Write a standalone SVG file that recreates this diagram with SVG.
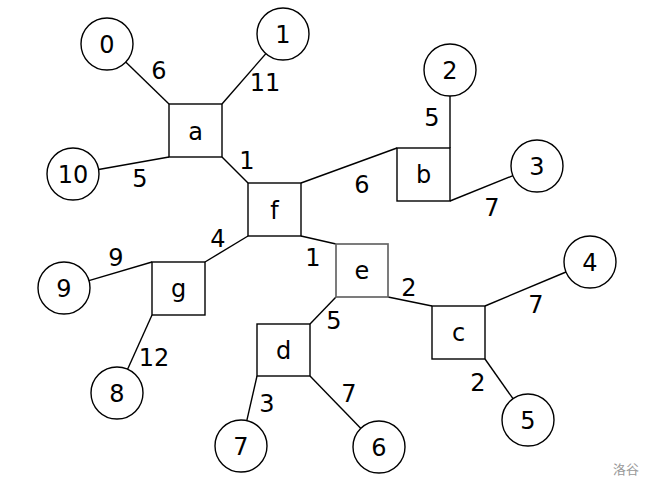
<svg xmlns="http://www.w3.org/2000/svg" width="653" height="489" viewBox="0 0 653 489">
<style>
.n{fill:#fff;stroke:#000;stroke-width:1.4}
.ng{fill:#fff;stroke:#666;stroke-width:1.7}
.t{font-family:"DejaVu Sans",sans-serif;font-size:24px;text-anchor:middle;fill:#000}
.e line{stroke:#000;stroke-width:1.4}
.wm{font-family:"Noto Sans CJK SC",sans-serif;font-size:13px;fill:#999;text-anchor:middle}
</style>
<rect width="653" height="489" fill="#fff"/>
<g id="connectors" class="e">
<line x1="125.7" y1="62.1" x2="169" y2="104"/>
<line x1="265.9" y1="53.6" x2="222" y2="104"/>
<line x1="98.6" y1="169.5" x2="169" y2="157"/>
<line x1="222" y1="157" x2="248" y2="183"/>
<line x1="301" y1="183" x2="397" y2="148"/>
<line x1="450" y1="148" x2="450" y2="96"/>
<line x1="450" y1="201" x2="512.9" y2="175.7"/>
<line x1="301" y1="236" x2="336" y2="244"/>
<line x1="388" y1="297" x2="432" y2="306"/>
<line x1="485" y1="306" x2="566" y2="272"/>
<line x1="485" y1="359" x2="513" y2="398.7"/>
<line x1="336" y1="297" x2="310" y2="324"/>
<line x1="248" y1="236" x2="205" y2="262"/>
<line x1="152" y1="262" x2="88.9" y2="280.6"/>
<line x1="152" y1="315" x2="127.6" y2="369.3"/>
<line x1="257" y1="376" x2="246.8" y2="420.6"/>
<line x1="310" y1="376" x2="360.9" y2="428.4"/>
</g>
<g id="edge-labels" class="t">
<text x="159" y="79">6</text>
<text x="265" y="91">11</text>
<text x="140" y="187">5</text>
<text x="247" y="169">1</text>
<text x="362" y="193">6</text>
<text x="432" y="126">5</text>
<text x="492" y="216">7</text>
<text x="313" y="266">1</text>
<text x="409" y="296">2</text>
<text x="536" y="313">7</text>
<text x="478" y="391">2</text>
<text x="334" y="329">5</text>
<text x="218" y="247">4</text>
<text x="116" y="266">9</text>
<text x="154" y="366">12</text>
<text x="267" y="412">3</text>
<text x="349" y="402">7</text>
</g>
<g id="node-0"><circle class="n" cx="107" cy="44" r="26"/><text class="t" x="107" y="52.5">0</text></g>
<g id="node-1"><circle class="n" cx="283" cy="34" r="26"/><text class="t" x="283" y="42.5">1</text></g>
<g id="node-2"><circle class="n" cx="450" cy="70" r="26"/><text class="t" x="450" y="78.5">2</text></g>
<g id="node-3"><circle class="n" cx="537" cy="166" r="26"/><text class="t" x="537" y="174.5">3</text></g>
<g id="node-4"><circle class="n" cx="590" cy="262" r="26"/><text class="t" x="590" y="270.5">4</text></g>
<g id="node-5"><circle class="n" cx="528" cy="420" r="26"/><text class="t" x="528" y="428.5">5</text></g>
<g id="node-6"><circle class="n" cx="379" cy="447" r="26"/><text class="t" x="379" y="455.5">6</text></g>
<g id="node-7"><circle class="n" cx="241" cy="446" r="26"/><text class="t" x="241" y="454.5">7</text></g>
<g id="node-8"><circle class="n" cx="117" cy="393" r="26"/><text class="t" x="117" y="401.5">8</text></g>
<g id="node-9"><circle class="n" cx="64" cy="288" r="26"/><text class="t" x="64" y="296.5">9</text></g>
<g id="node-10"><circle class="n" cx="73" cy="174" r="26"/><text class="t" x="73" y="182.5">10</text></g>
<g id="node-a"><rect class="n" x="169" y="104" width="53" height="53"/><text class="t" x="195.5" y="139.5">a</text></g>
<g id="node-f"><rect class="n" x="248" y="183" width="53" height="53"/><text class="t" x="274.5" y="218.5">f</text></g>
<g id="node-b"><rect class="n" x="397" y="148" width="53" height="53"/><text class="t" x="423.5" y="182.5">b</text></g>
<g id="node-e"><rect class="ng" x="336" y="244" width="52" height="53"/><text class="t" x="362" y="278.5">e</text></g>
<g id="node-c"><rect class="n" x="432" y="306" width="53" height="53"/><text class="t" x="458.5" y="340.5">c</text></g>
<g id="node-g"><rect class="n" x="152" y="262" width="53" height="53"/><text class="t" x="178.5" y="296.5">g</text></g>
<g id="node-d"><rect class="n" x="257" y="324" width="53" height="52"/><text class="t" x="283.5" y="358.5">d</text></g>
<text class="wm" x="626" y="474">洛谷</text>
</svg>
